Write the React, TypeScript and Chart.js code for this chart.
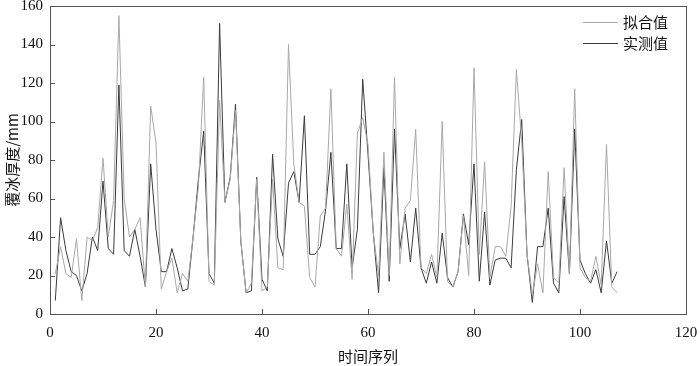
import React, { useEffect, useRef } from "react";
import { Chart, registerables } from "chart.js";

Chart.register(...registerables);

const seriesNames = ["拟合值", "实测值"];
const xTitle = "时间序列";
const yTitle = "覆冰厚度/mm";
const xTickValues = [0, 20, 40, 60, 80, 100, 120];
const yTickValues = [0, 20, 40, 60, 80, 100, 120, 140, 160];

const timeIndex = [
  1, 2, 3, 4, 5, 6, 7, 8, 9, 10, 11, 12, 13, 14, 15, 16, 17, 18, 19, 20,
  21, 22, 23, 24, 25, 26, 27, 28, 29, 30, 31, 32, 33, 34, 35, 36, 37, 38, 39, 40,
  41, 42, 43, 44, 45, 46, 47, 48, 49, 50, 51, 52, 53, 54, 55, 56, 57, 58, 59, 60,
  61, 62, 63, 64, 65, 66, 67, 68, 69, 70, 71, 72, 73, 74, 75, 76, 77, 78, 79, 80,
  81, 82, 83, 84, 85, 86, 87, 88, 89, 90, 91, 92, 93, 94, 95, 96, 97, 98, 99, 100,
  101, 102, 103, 104, 105, 106, 107,
];

const fitted = [
  21, 35, 21, 19, 39, 7, 40, 38, 45, 81, 40, 59, 155, 60, 40, 44, 50, 14, 108, 89,
  13, 22, 29, 11, 21, 17, 40, 66, 123, 17, 15, 111, 58, 70, 106, 38, 11, 16, 70, 12,
  14, 70, 24, 23, 140, 78, 58, 56, 19, 14, 51, 55, 117, 34, 30, 57, 18, 94, 102, 88,
  42, 20, 84, 20, 123, 26, 55, 59, 96, 24, 21, 31, 19, 100, 17, 14, 22, 51, 20, 128,
  31, 79, 19, 35, 35, 30, 56, 127, 90, 31, 10, 26, 11, 74, 19, 16, 76, 21, 117, 24,
  19, 17, 30, 15, 88, 14, 11,
];

const measured = [
  7, 50, 33, 22, 20, 12, 21, 40, 33, 69, 34, 31, 119, 33, 30, 44, 30, 14, 78, 44,
  22, 22, 34, 24, 12, 13, 40, 70, 95, 21, 16, 151, 58, 71, 109, 38, 11, 12, 71, 18,
  12, 83, 39, 30, 68, 74, 58, 103, 31, 31, 35, 54, 84, 34, 34, 78, 24, 44, 122, 83,
  42, 11, 76, 17, 96, 34, 52, 27, 55, 24, 16, 27, 16, 42, 19, 14, 22, 52, 36, 78,
  17, 53, 15, 28, 29, 29, 24, 75, 101, 31, 6, 35, 35, 55, 16, 11, 61, 21, 96, 28,
  21, 16, 23, 11, 38, 16, 22,
];

const seriesColors = ["#a8a8a8", "#3a3a3a"];
const serifFont = "'Liberation Serif', 'Noto Sans CJK SC', serif";
const cjkFont = "'Noto Sans CJK SC', 'Liberation Serif', serif";

const framePlugin = {
  id: "frameTicks",
  afterDraw(chart: any) {
    const { ctx, chartArea } = chart;
    const { left, right, top, bottom } = chartArea;
    const xs = chart.scales.x;
    const ys = chart.scales.y;
    ctx.save();
    ctx.strokeStyle = "#555";
    ctx.lineWidth = 1;
    ctx.strokeRect(Math.round(left) + 0.5, Math.round(top) + 0.5, Math.round(right - left), Math.round(bottom - top));
    ctx.beginPath();
    xTickValues.forEach((v) => {
      const px = Math.round(xs.getPixelForValue(v)) + 0.5;
      ctx.moveTo(px, bottom);
      ctx.lineTo(px, bottom - 5);
    });
    yTickValues.forEach((v) => {
      const py = Math.round(ys.getPixelForValue(v)) + 0.5;
      ctx.moveTo(left, py);
      ctx.lineTo(left + 5, py);
    });
    ctx.stroke();

    // legend inside top-right
    const lx0 = right - 103;
    const lx1 = right - 68;
    const tx = right - 63;
    const rows = [top + 16, top + 37];
    chart.data.datasets.forEach((ds: any, i: number) => {
      const y = rows[i] + 0.5;
      ctx.strokeStyle = ds.borderColor;
      ctx.lineWidth = 1;
      ctx.beginPath();
      ctx.moveTo(lx0, y);
      ctx.lineTo(lx1, y);
      ctx.stroke();
      ctx.fillStyle = "#111";
      ctx.font = `15px ${cjkFont}`;
      ctx.textBaseline = "middle";
      ctx.textAlign = "left";
      ctx.fillText(ds.label, tx, rows[i]);
    });
    ctx.restore();
  },
};

export default function App() {
  const canvasRef = useRef<HTMLCanvasElement | null>(null);

  useEffect(() => {
    if (!canvasRef.current) return;
    const mk = (vals: number[]) => timeIndex.map((x, i) => ({ x, y: vals[i] }));
    const chart = new Chart(canvasRef.current, {
      type: "line",
      data: {
        datasets: [
          {
            label: seriesNames[0],
            data: mk(fitted),
            borderColor: seriesColors[0],
            borderWidth: 1,
            pointRadius: 0,
            tension: 0,
            fill: false,
          },
          {
            label: seriesNames[1],
            data: mk(measured),
            borderColor: seriesColors[1],
            borderWidth: 1,
            pointRadius: 0,
            tension: 0,
            fill: false,
          },
        ],
      },
      options: {
        responsive: false,
        animation: false,
        layout: { padding: { left: 0, right: 14, top: 6, bottom: 0 } },
        plugins: {
          legend: { display: false },
          tooltip: { enabled: false },
        },
        scales: {
          x: {
            type: "linear",
            min: 0,
            max: 120,
            afterBuildTicks: (s: any) => {
              s.ticks = xTickValues.map((v) => ({ value: v }));
            },
            afterFit: (s: any) => {
              s.height = 52;
              s.paddingLeft = 0;
              s.paddingRight = 0;
            },
            grid: { display: false, drawTicks: false },
            border: { display: false },
            ticks: {
              padding: 10,
              color: "#111",
              font: { family: serifFont, size: 15 },
              maxRotation: 0,
            },
            title: {
              display: true,
              text: xTitle,
              color: "#111",
              font: { family: cjkFont, size: 15 },
              padding: { top: 0, bottom: 1 },
            },
          },
          y: {
            type: "linear",
            min: 0,
            max: 160,
            afterBuildTicks: (s: any) => {
              s.ticks = yTickValues.map((v) => ({ value: v }));
            },
            afterFit: (s: any) => {
              s.width = 50;
              s.paddingTop = 0;
              s.paddingBottom = 0;
            },
            grid: { display: false, drawTicks: false },
            border: { display: false },
            ticks: {
              padding: 7,
              color: "#111",
              font: { family: serifFont, size: 15 },
            },
            title: {
              display: true,
              text: yTitle,
              color: "#111",
              font: { family: cjkFont, size: 15 },
              padding: { top: 3, bottom: 0 },
            },
          },
        },
      },
      plugins: [framePlugin],
    });
    return () => chart.destroy();
  }, []);

  return (
    <div style={{ position: "absolute", left: 0, top: 0, width: 700, height: 366, background: "#fff" }}>
      <canvas ref={canvasRef} width={700} height={366} style={{ width: 700, height: 366, display: "block" }} />
    </div>
  );
}
